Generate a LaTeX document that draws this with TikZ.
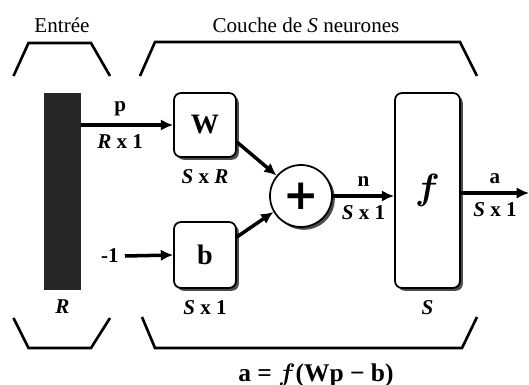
\documentclass[tikz,border=0pt]{standalone}
\usepackage{bm}
\usepackage{fontspec}
\setmainfont{Liberation Serif}
\newfontfamily\plusfont{DejaVu Sans}
\usetikzlibrary{arrows.meta,shadows}
\begin{document}
\begin{tikzpicture}[every node/.style={font=\fontsize{12}{13}\selectfont\bfseries},
  blk/.style={draw,line width=1pt,rounded corners=4pt,fill=white,inner sep=0pt,
    drop shadow={shadow xshift=1.6pt,shadow yshift=-1.6pt,fill=black!70,opacity=1}},
  arr/.style={-{Latex[length=7pt,width=6.5pt]},line width=2pt},
  brk/.style={line width=1.5pt},
  ttl/.style={font=\fontsize{12}{13}\selectfont}]
\useasboundingbox (0,0) rectangle (10.58,7.70);
\node[ttl] (tin) at (1.24,7.20) {Entrée};
\node[ttl] (tlay) at (6.12,7.20) {Couche de \textit{S} neurones};
\draw[brk] (0.27,6.18) -- (0.57,6.84) -- (1.82,6.84) -- (2.20,6.18);
\draw[brk] (2.80,6.18) -- (3.10,6.86) -- (9.20,6.86) -- (9.54,6.18);
\draw[brk] (0.27,1.34) -- (0.57,0.74) -- (1.82,0.74) -- (2.20,1.34);
\draw[brk] (2.84,1.36) -- (3.10,0.74) -- (9.24,0.74) -- (9.54,1.36);
% blocks
\node[fill=black!85,minimum width=0.74cm,minimum height=3.94cm,inner sep=0pt] (inp) at (1.25,3.87) {};
\node[blk,minimum width=1.24cm,minimum height=1.28cm,font=\fontsize{16}{17}\selectfont\bfseries] (W) at (4.10,5.20) {W};
\node[blk,minimum width=1.24cm,minimum height=1.32cm,font=\fontsize{16}{17}\selectfont\bfseries] (b) at (4.10,2.60) {b};
\node[blk,circle,minimum size=1.24cm,font=\fontsize{24}{24}\selectfont\plusfont\bfseries] (sum) at (6.02,3.78) {+};
\node[blk,minimum width=1.30cm,minimum height=3.90cm,font=\fontsize{22}{23}\selectfont] (f) at (8.55,3.89) {$\bm{f}$};
\node (bias) at (2.20,2.58) {-1};
\coordinate (out) at (10.58,3.84);
% connections
\draw[arr] (inp.east |- W) -- (W.west) node[midway,above=1pt,xshift=-4pt] (lp) {p} node[midway,below=1pt,xshift=-4pt] (lpd) {\textit{R} x 1};
\draw[arr] ([yshift=-0.34cm]W.east) -- (sum.140);
\draw[arr] ([yshift=0.36cm]b.east) -- (sum.210);
\draw[arr] (bias.east) -- (b.west);
\draw[arr] (sum.east) -- (sum.east -| f.west) node[midway,above=1pt] (ln) {n} node[midway,below=1pt] (lnd) {\textit{S} x 1};
\draw[arr] (f.east |- out) -- (out) node[midway,above=1pt] (la) {a} node[midway,below=1pt] (lad) {\textit{S} x 1};
% sizes
\node[below=3pt] (wd) at (W.south) {\textit{S} x \textit{R}};
\node[below=3pt] (bd) at (b.south) {\textit{S} x 1};
\node[below=2pt] (rd) at (inp.south) {\textit{R}};
\node[below=3pt] (sd) at (f.south) {\textit{S}};
\node[font=\fontsize{14.5}{16}\selectfont\bfseries] (eq) at (6.32,0.20) {a = $\bm{f}$(Wp − b)};
\end{tikzpicture}
\end{document}
